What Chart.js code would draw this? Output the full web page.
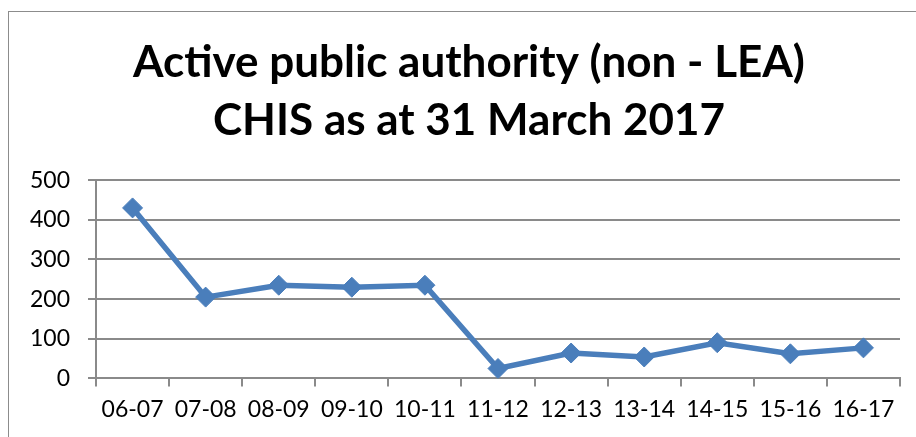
<!DOCTYPE html>
<html>
<head>
<meta charset="utf-8">
<script src="https://cdn.jsdelivr.net/npm/chart.js@4"></script>
<style>
html,body{margin:0;padding:0;background:#fff;overflow:hidden;}
#frame{position:absolute;left:8px;top:11px;width:922px;height:440px;border:1px solid #8c8c8c;box-sizing:border-box;}
#wrap{position:absolute;left:0;top:0;width:920px;height:426px;}
</style>
</head>
<body>
<div id="frame"><div id="wrap"><canvas id="c"></canvas></div></div>
<script>
const categories = ["06-07","07-08","08-09","09-10","10-11","11-12","12-13","13-14","14-15","15-16","16-17"];
const values = [430, 205, 235, 230, 235, 25, 64, 54, 90, 62, 77];
const titleLines = ["Active public authority (non - LEA)", "CHIS as at 31 March 2017"];
const yTicks = [0, 100, 200, 300, 400, 500];

const FONT = "Lato, 'Liberation Sans', sans-serif";
const BLUE = "#4A7EBB";
const GRID = "#8a8a8a";

// shift the library's title block so it is centred where the reference centres it
const titleShift = {
  id: 'titleShift',
  afterLayout(chart) {
    const tb = chart.titleBlock;
    if (!tb) return;
    const target = 460;
    const d = target - (tb.left + tb.right) / 2;
    tb.left += d; tb.right += d;
  }
};

new Chart(document.getElementById('c'), {
  type: 'line',
  data: {
    labels: categories,
    datasets: [{
      data: values,
      borderColor: BLUE,
      backgroundColor: BLUE,
      borderWidth: 5.5,
      pointStyle: 'rectRot',
      pointRadius: 10,
      pointHoverRadius: 10,
      pointBackgroundColor: BLUE,
      pointBorderColor: BLUE,
      pointBorderWidth: 1,
      tension: 0,
      fill: false
    }]
  },
  plugins: [titleShift],
  options: {
    responsive: true,
    maintainAspectRatio: false,
    animation: false,
    layout: { padding: { left: 3, right: 29, top: 22, bottom: 6 } },
    plugins: {
      legend: { display: false },
      tooltip: { enabled: false },
      title: {
        display: true,
        text: titleLines,
        color: '#000',
        font: { family: FONT, size: 44, weight: 'bold', lineHeight: 1.32 },
        padding: { top: 0, bottom: 30 }
      }
    },
    scales: {
      x: {
        offset: true,
        grid: {
          offset: true,
          drawOnChartArea: false,
          drawTicks: true,
          tickLength: 8,
          color: GRID,
          lineWidth: 2
        },
        border: { display: true, color: GRID, width: 2 },
        ticks: { color: '#000', font: { family: FONT, size: 23 }, padding: 9, maxRotation: 0, autoSkip: false }
      },
      y: {
        min: 0, max: 500,
        afterBuildTicks: (s) => { s.ticks = yTicks.map(v => ({ value: v })); },
        grid: {
          color: GRID,
          lineWidth: 2,
          drawTicks: true,
          tickLength: 8
        },
        border: { display: true, color: GRID, width: 2 },
        ticks: { color: '#000', font: { family: FONT, size: 23 }, padding: 18 }
      }
    }
  }
});
</script>
</body>
</html>
